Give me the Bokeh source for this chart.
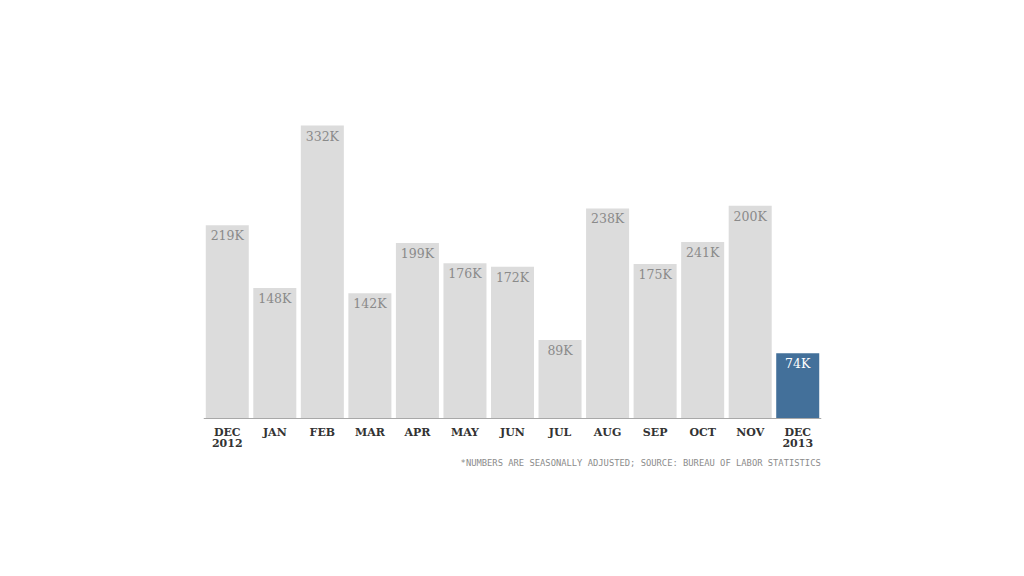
from bokeh.plotting import figure
from bokeh.models import ColumnDataSource, FactorRange, Range1d, Span
from bokeh.core.properties import value
from bokeh.embed import file_html
from bokeh.resources import INLINE

months = ["DEC 2012", "JAN", "FEB", "MAR", "APR", "MAY", "JUN", "JUL", "AUG", "SEP", "OCT", "NOV", "DEC 2013"]
tick_labels = ["DEC\n2012", "JAN", "FEB", "MAR", "APR", "MAY", "JUN", "JUL", "AUG", "SEP", "OCT", "NOV", "DEC\n2013"]
jobs = [219, 148, 332, 142, 199, 176, 172, 89, 238, 175, 200, 241, 74]
value_labels = ["219K", "148K", "332K", "142K", "199K", "176K", "172K", "89K", "238K", "175K", "241K", "200K", "74K"]
note = "*NUMBERS ARE SEASONALLY ADJUSTED; SOURCE: BUREAU OF LABOR STATISTICS"

GRAY = "#dcdcdc"
BLUE = "#43709a"
colors = [GRAY] * (len(months) - 1) + [BLUE]
label_colors = ["#8a8a8a"] * (len(months) - 1) + ["#ffffff"]

src = ColumnDataSource(dict(m=months, v=jobs, c=colors, lab=value_labels, lc=label_colors,
                            tick=tick_labels, zero=[0] * len(months)))

p = figure(width=1024, height=576, x_range=FactorRange(*months, range_padding=0),
           y_range=Range1d(-58.92, 360.34), output_backend="svg", toolbar_location=None,
           min_border_left=203, min_border_right=203, min_border_top=100, min_border_bottom=106)
p.axis.visible = False
p.grid.visible = False
p.outline_line_color = None
p.background_fill_color = "white"
p.border_fill_color = "white"

p.vbar(x="m", top="v", bottom=0, width=0.905, fill_color="c", line_color=None, source=src)
p.add_layout(Span(location=0, dimension="width", line_color="#a8a8a8", line_width=1))

p.text(x="m", y="v", text="lab", source=src, text_color="lc", text_align="center",
       text_baseline="top", y_offset=3, text_font=value("DejaVu Serif"), text_font_size="12.5px")

p.text(x="m", y="zero", text="tick", source=src, text_color="#333333", text_align="center",
       text_baseline="top", y_offset=7, text_font=value("DejaVu Serif"), text_font_size="11px",
       text_font_style="bold", text_line_height=0.85)

p.text(x=["DEC 2013"], y=[0], text=[note], text_color="#8c8c8c", text_align="right",
       text_baseline="middle", x_offset=23, y_offset=44, text_font=value("DejaVu Sans Mono"),
       text_font_size="8.8px")

open("out.html", "w").write(file_html(p, INLINE))
